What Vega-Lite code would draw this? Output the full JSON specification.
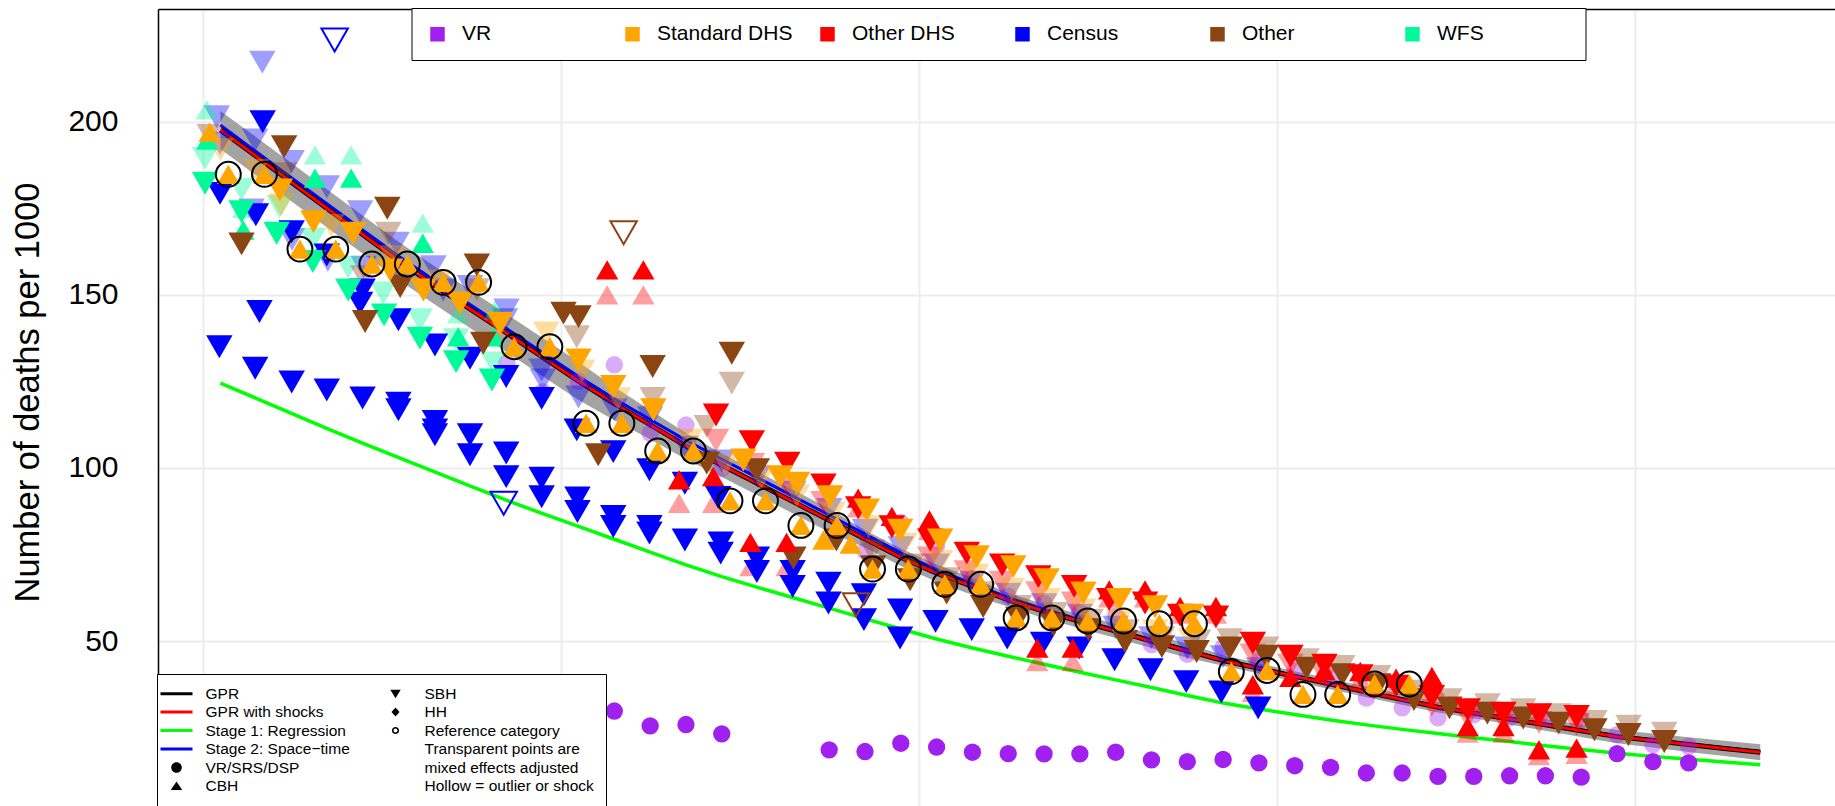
{
  "$schema": "https://vega.github.io/schema/vega-lite/v6.json",
  "width": 1677,
  "height": 797,
  "autosize": {"type": "none"},
  "padding": {"left": 158, "top": 9, "right": 0, "bottom": 0},
  "background": "white",
  "config": {"view": {"stroke": null}, "font": "Liberation Sans"},
  "resolve": {"scale": {"shape": "independent", "fill": "independent", "color": "independent"}},
  "datasets": {
    "est": [
      {"x":1970.5,"gpr":197.6,"lo":192.1,"hi":203.1,"s1":124.5,"s2":199.0},
      {"x":1971.5,"gpr":190.0,"lo":184.5,"hi":195.5,"s1":120.1,"s2":191.3},
      {"x":1972.5,"gpr":182.4,"lo":176.9,"hi":187.9,"s1":115.7,"s2":183.7},
      {"x":1973.5,"gpr":174.8,"lo":169.3,"hi":180.3,"s1":111.3,"s2":176.1},
      {"x":1974.5,"gpr":167.2,"lo":161.7,"hi":172.7,"s1":107.0,"s2":168.5},
      {"x":1975.5,"gpr":159.6,"lo":154.1,"hi":165.1,"s1":102.9,"s2":161.0},
      {"x":1976.5,"gpr":152.6,"lo":147.1,"hi":158.1,"s1":98.8,"s2":154.0},
      {"x":1977.5,"gpr":145.7,"lo":140.2,"hi":151.2,"s1":94.7,"s2":147.0},
      {"x":1978.5,"gpr":138.9,"lo":133.4,"hi":144.4,"s1":90.6,"s2":140.2},
      {"x":1979.5,"gpr":132.0,"lo":126.5,"hi":137.5,"s1":86.8,"s2":133.3},
      {"x":1980.5,"gpr":125.1,"lo":119.6,"hi":130.6,"s1":83.1,"s2":126.4},
      {"x":1981.5,"gpr":118.6,"lo":113.8,"hi":123.4,"s1":79.4,"s2":120.0},
      {"x":1982.5,"gpr":112.5,"lo":108.3,"hi":116.7,"s1":75.7,"s2":114.0},
      {"x":1983.5,"gpr":106.3,"lo":102.5,"hi":110.1,"s1":72.0,"s2":108.0},
      {"x":1984.5,"gpr":100.8,"lo":97.4,"hi":104.2,"s1":68.6,"s2":102.5},
      {"x":1985.5,"gpr":95.5,"lo":92.1,"hi":98.9,"s1":65.5,"s2":97.2},
      {"x":1986.5,"gpr":90.2,"lo":86.8,"hi":93.6,"s1":62.5,"s2":91.8},
      {"x":1987.5,"gpr":84.9,"lo":81.5,"hi":88.3,"s1":59.5,"s2":86.4},
      {"x":1988.5,"gpr":79.5,"lo":77.0,"hi":82.0,"s1":56.5,"s2":80.9},
      {"x":1989.5,"gpr":74.2,"lo":71.7,"hi":76.7,"s1":53.5,"s2":75.5},
      {"x":1990.5,"gpr":69.6,"lo":67.1,"hi":72.1,"s1":50.6,"s2":70.6},
      {"x":1991.5,"gpr":65.8,"lo":63.3,"hi":68.3,"s1":48.0,"s2":66.6},
      {"x":1992.5,"gpr":61.9,"lo":59.9,"hi":63.9,"s1":45.6,"s2":62.6},
      {"x":1993.5,"gpr":58.6,"lo":56.6,"hi":60.6,"s1":43.3,"s2":59.2},
      {"x":1994.5,"gpr":55.7,"lo":53.7,"hi":57.7,"s1":41.0,"s2":56.2},
      {"x":1995.5,"gpr":52.9,"lo":50.9,"hi":54.9,"s1":38.8,"s2":53.3},
      {"x":1996.5,"gpr":50.0,"lo":48.0,"hi":52.0,"s1":36.6,"s2":50.4},
      {"x":1997.5,"gpr":47.2,"lo":45.2,"hi":49.2,"s1":34.3,"s2":47.5},
      {"x":1998.5,"gpr":44.4,"lo":42.9,"hi":45.9,"s1":32.1,"s2":44.6},
      {"x":1999.5,"gpr":42.1,"lo":40.6,"hi":43.6,"s1":30.4,"s2":42.3},
      {"x":2000.5,"gpr":39.8,"lo":38.3,"hi":41.3,"s1":28.8,"s2":40.0},
      {"x":2001.5,"gpr":37.6,"lo":36.1,"hi":39.1,"s1":27.2,"s2":37.8},
      {"x":2002.5,"gpr":35.3,"lo":33.8,"hi":36.8,"s1":25.8,"s2":35.5},
      {"x":2003.5,"gpr":33.1,"lo":31.6,"hi":34.6,"s1":24.5,"s2":33.3},
      {"x":2004.5,"gpr":30.9,"lo":29.4,"hi":32.4,"s1":23.3,"s2":31.1},
      {"x":2005.5,"gpr":29.2,"lo":27.7,"hi":30.7,"s1":22.1,"s2":29.4},
      {"x":2006.5,"gpr":27.5,"lo":25.9,"hi":29.1,"s1":21.0,"s2":27.7},
      {"x":2007.5,"gpr":25.8,"lo":24.1,"hi":27.5,"s1":19.8,"s2":26.0},
      {"x":2008.5,"gpr":24.1,"lo":22.3,"hi":25.9,"s1":18.7,"s2":24.3},
      {"x":2009.5,"gpr":22.4,"lo":20.5,"hi":24.3,"s1":17.6,"s2":22.6},
      {"x":2010.5,"gpr":21.3,"lo":19.3,"hi":23.3,"s1":16.7,"s2":21.5},
      {"x":2011.5,"gpr":20.1,"lo":18.0,"hi":22.2,"s1":15.9,"s2":20.3},
      {"x":2012.5,"gpr":19.0,"lo":16.8,"hi":21.2,"s1":15.1,"s2":19.2},
      {"x":2013.5,"gpr":17.9,"lo":15.6,"hi":20.2,"s1":14.3,"s2":18.1}
    ],
    "pts": [
      {"x":1978.5,"y":30.3,"s":"VR","m":"VR","k":"data"},
      {"x":1979.5,"y":28.4,"s":"VR","m":"VR","k":"data"},
      {"x":1980.5,"y":29.0,"s":"VR","m":"VR","k":"data"},
      {"x":1981.5,"y":29.8,"s":"VR","m":"VR","k":"data"},
      {"x":1982.5,"y":25.5,"s":"VR","m":"VR","k":"data"},
      {"x":1983.5,"y":25.9,"s":"VR","m":"VR","k":"data"},
      {"x":1984.5,"y":23.2,"s":"VR","m":"VR","k":"data"},
      {"x":1987.5,"y":18.6,"s":"VR","m":"VR","k":"data"},
      {"x":1988.5,"y":18.1,"s":"VR","m":"VR","k":"data"},
      {"x":1989.5,"y":20.5,"s":"VR","m":"VR","k":"data"},
      {"x":1990.5,"y":19.4,"s":"VR","m":"VR","k":"data"},
      {"x":1991.5,"y":17.9,"s":"VR","m":"VR","k":"data"},
      {"x":1992.5,"y":17.5,"s":"VR","m":"VR","k":"data"},
      {"x":1993.5,"y":17.4,"s":"VR","m":"VR","k":"data"},
      {"x":1994.5,"y":17.4,"s":"VR","m":"VR","k":"data"},
      {"x":1995.5,"y":17.9,"s":"VR","m":"VR","k":"data"},
      {"x":1996.5,"y":15.7,"s":"VR","m":"VR","k":"data"},
      {"x":1997.5,"y":15.2,"s":"VR","m":"VR","k":"data"},
      {"x":1998.5,"y":15.8,"s":"VR","m":"VR","k":"data"},
      {"x":1999.5,"y":14.8,"s":"VR","m":"VR","k":"data"},
      {"x":2000.5,"y":14.0,"s":"VR","m":"VR","k":"data"},
      {"x":2001.5,"y":13.5,"s":"VR","m":"VR","k":"data"},
      {"x":2002.5,"y":11.9,"s":"VR","m":"VR","k":"data"},
      {"x":2003.5,"y":11.9,"s":"VR","m":"VR","k":"data"},
      {"x":2004.5,"y":10.9,"s":"VR","m":"VR","k":"data"},
      {"x":2005.5,"y":10.9,"s":"VR","m":"VR","k":"data"},
      {"x":2006.5,"y":11.1,"s":"VR","m":"VR","k":"data"},
      {"x":2007.5,"y":11.1,"s":"VR","m":"VR","k":"data"},
      {"x":2008.5,"y":10.7,"s":"VR","m":"VR","k":"data"},
      {"x":2009.5,"y":17.5,"s":"VR","m":"VR","k":"data"},
      {"x":2010.5,"y":15.2,"s":"VR","m":"VR","k":"data"},
      {"x":2011.5,"y":14.8,"s":"VR","m":"VR","k":"data"},
      {"x":1978.5,"y":130.3,"s":"VR","m":"VR","k":"adj"},
      {"x":1979.5,"y":122.0,"s":"VR","m":"VR","k":"adj"},
      {"x":1980.5,"y":125.0,"s":"VR","m":"VR","k":"adj"},
      {"x":1981.5,"y":129.8,"s":"VR","m":"VR","k":"adj"},
      {"x":1982.5,"y":110.0,"s":"VR","m":"VR","k":"adj"},
      {"x":1983.5,"y":112.4,"s":"VR","m":"VR","k":"adj"},
      {"x":1984.5,"y":99.8,"s":"VR","m":"VR","k":"adj"},
      {"x":1987.5,"y":79.2,"s":"VR","m":"VR","k":"adj"},
      {"x":1988.5,"y":76.0,"s":"VR","m":"VR","k":"adj"},
      {"x":1989.5,"y":84.2,"s":"VR","m":"VR","k":"adj"},
      {"x":1990.5,"y":77.6,"s":"VR","m":"VR","k":"adj"},
      {"x":1991.5,"y":68.0,"s":"VR","m":"VR","k":"adj"},
      {"x":1992.5,"y":63.0,"s":"VR","m":"VR","k":"adj"},
      {"x":1993.5,"y":60.9,"s":"VR","m":"VR","k":"adj"},
      {"x":1994.5,"y":58.3,"s":"VR","m":"VR","k":"adj"},
      {"x":1995.5,"y":57.3,"s":"VR","m":"VR","k":"adj"},
      {"x":1996.5,"y":49.0,"s":"VR","m":"VR","k":"adj"},
      {"x":1997.5,"y":46.2,"s":"VR","m":"VR","k":"adj"},
      {"x":1998.5,"y":48.2,"s":"VR","m":"VR","k":"adj"},
      {"x":1999.5,"y":44.4,"s":"VR","m":"VR","k":"adj"},
      {"x":2000.5,"y":41.3,"s":"VR","m":"VR","k":"adj"},
      {"x":2001.5,"y":39.3,"s":"VR","m":"VR","k":"adj"},
      {"x":2002.5,"y":33.5,"s":"VR","m":"VR","k":"adj"},
      {"x":2003.5,"y":30.7,"s":"VR","m":"VR","k":"adj"},
      {"x":2004.5,"y":27.8,"s":"VR","m":"VR","k":"adj"},
      {"x":2005.5,"y":28.7,"s":"VR","m":"VR","k":"adj"},
      {"x":2006.5,"y":27.8,"s":"VR","m":"VR","k":"adj"},
      {"x":2007.5,"y":27.8,"s":"VR","m":"VR","k":"adj"},
      {"x":2008.5,"y":27.3,"s":"VR","m":"VR","k":"adj"},
      {"x":2009.5,"y":23.0,"s":"VR","m":"VR","k":"adj"},
      {"x":2010.5,"y":20.1,"s":"VR","m":"VR","k":"adj"},
      {"x":2011.5,"y":19.6,"s":"VR","m":"VR","k":"adj"},
      {"x":1971.68,"y":200.0,"s":"Census","m":"SBH","k":"data"},
      {"x":1970.49,"y":179.3,"s":"Census","m":"SBH","k":"data"},
      {"x":1971.49,"y":173.1,"s":"Census","m":"SBH","k":"data"},
      {"x":1972.49,"y":168.2,"s":"Census","m":"SBH","k":"data"},
      {"x":1973.47,"y":161.5,"s":"Census","m":"SBH","k":"data"},
      {"x":1974.47,"y":151.4,"s":"Census","m":"SBH","k":"data"},
      {"x":1974.40,"y":147.6,"s":"Census","m":"SBH","k":"data"},
      {"x":1975.47,"y":142.8,"s":"Census","m":"SBH","k":"data"},
      {"x":1976.49,"y":135.5,"s":"Census","m":"SBH","k":"data"},
      {"x":1977.47,"y":131.7,"s":"Census","m":"SBH","k":"data"},
      {"x":1978.48,"y":126.4,"s":"Census","m":"SBH","k":"data"},
      {"x":1979.47,"y":120.1,"s":"Census","m":"SBH","k":"data"},
      {"x":1980.45,"y":111.0,"s":"Census","m":"SBH","k":"data"},
      {"x":1981.47,"y":104.7,"s":"Census","m":"SBH","k":"data"},
      {"x":1982.48,"y":99.5,"s":"Census","m":"SBH","k":"data"},
      {"x":1983.47,"y":95.6,"s":"Census","m":"SBH","k":"data"},
      {"x":1984.40,"y":91.5,"s":"Census","m":"SBH","k":"data"},
      {"x":1971.59,"y":145.2,"s":"Census","m":"SBH","k":"data"},
      {"x":1970.47,"y":135.0,"s":"Census","m":"SBH","k":"data"},
      {"x":1971.47,"y":128.8,"s":"Census","m":"SBH","k":"data"},
      {"x":1972.49,"y":124.8,"s":"Census","m":"SBH","k":"data"},
      {"x":1973.47,"y":122.5,"s":"Census","m":"SBH","k":"data"},
      {"x":1974.47,"y":120.2,"s":"Census","m":"SBH","k":"data"},
      {"x":1975.47,"y":118.7,"s":"Census","m":"SBH","k":"data"},
      {"x":1975.47,"y":116.8,"s":"Census","m":"SBH","k":"data"},
      {"x":1976.49,"y":113.4,"s":"Census","m":"SBH","k":"data"},
      {"x":1976.49,"y":111.0,"s":"Census","m":"SBH","k":"data"},
      {"x":1976.49,"y":109.6,"s":"Census","m":"SBH","k":"data"},
      {"x":1977.47,"y":109.6,"s":"Census","m":"SBH","k":"data"},
      {"x":1977.47,"y":103.8,"s":"Census","m":"SBH","k":"data"},
      {"x":1978.48,"y":104.3,"s":"Census","m":"SBH","k":"data"},
      {"x":1978.48,"y":97.5,"s":"Census","m":"SBH","k":"data"},
      {"x":1979.47,"y":97.0,"s":"Census","m":"SBH","k":"data"},
      {"x":1979.47,"y":91.7,"s":"Census","m":"SBH","k":"data"},
      {"x":1980.47,"y":91.3,"s":"Census","m":"SBH","k":"data"},
      {"x":1980.47,"y":87.4,"s":"Census","m":"SBH","k":"data"},
      {"x":1981.47,"y":86.0,"s":"Census","m":"SBH","k":"data"},
      {"x":1981.47,"y":83.1,"s":"Census","m":"SBH","k":"data"},
      {"x":1982.48,"y":83.1,"s":"Census","m":"SBH","k":"data"},
      {"x":1982.48,"y":81.2,"s":"Census","m":"SBH","k":"data"},
      {"x":1983.47,"y":79.2,"s":"Census","m":"SBH","k":"data"},
      {"x":1984.47,"y":78.3,"s":"Census","m":"SBH","k":"data"},
      {"x":1984.47,"y":75.4,"s":"Census","m":"SBH","k":"data"},
      {"x":1985.48,"y":74.0,"s":"Census","m":"SBH","k":"data"},
      {"x":1985.48,"y":70.1,"s":"Census","m":"SBH","k":"data"},
      {"x":1986.48,"y":70.1,"s":"Census","m":"SBH","k":"data"},
      {"x":1986.48,"y":65.8,"s":"Census","m":"SBH","k":"data"},
      {"x":1987.48,"y":66.7,"s":"Census","m":"SBH","k":"data"},
      {"x":1987.48,"y":61.0,"s":"Census","m":"SBH","k":"data"},
      {"x":1988.47,"y":63.4,"s":"Census","m":"SBH","k":"data"},
      {"x":1988.47,"y":56.2,"s":"Census","m":"SBH","k":"data"},
      {"x":1989.48,"y":59.0,"s":"Census","m":"SBH","k":"data"},
      {"x":1989.48,"y":50.9,"s":"Census","m":"SBH","k":"data"},
      {"x":1990.47,"y":55.7,"s":"Census","m":"SBH","k":"data"},
      {"x":1991.48,"y":53.3,"s":"Census","m":"SBH","k":"data"},
      {"x":1992.47,"y":50.9,"s":"Census","m":"SBH","k":"data"},
      {"x":1993.47,"y":49.4,"s":"Census","m":"SBH","k":"data"},
      {"x":1994.48,"y":48.0,"s":"Census","m":"SBH","k":"data"},
      {"x":1995.47,"y":44.6,"s":"Census","m":"SBH","k":"data"},
      {"x":1996.47,"y":41.7,"s":"Census","m":"SBH","k":"data"},
      {"x":1997.47,"y":38.3,"s":"Census","m":"SBH","k":"data"},
      {"x":1998.45,"y":35.3,"s":"Census","m":"SBH","k":"data"},
      {"x":1999.48,"y":30.7,"s":"Census","m":"SBH","k":"data"},
      {"x":1973.69,"y":223.6,"s":"Census","m":"SBH","k":"out"},
      {"x":1978.41,"y":89.8,"s":"Census","m":"SBH","k":"out"},
      {"x":1971.67,"y":217.2,"s":"Census","m":"SBH","k":"adj"},
      {"x":1970.40,"y":201.4,"s":"Census","m":"SBH","k":"adj"},
      {"x":1970.49,"y":193.8,"s":"Census","m":"SBH","k":"adj"},
      {"x":1971.47,"y":194.7,"s":"Census","m":"SBH","k":"adj"},
      {"x":1972.49,"y":188.5,"s":"Census","m":"SBH","k":"adj"},
      {"x":1973.47,"y":181.2,"s":"Census","m":"SBH","k":"adj"},
      {"x":1974.40,"y":174.0,"s":"Census","m":"SBH","k":"adj"},
      {"x":1975.42,"y":164.9,"s":"Census","m":"SBH","k":"adj"},
      {"x":1976.45,"y":158.1,"s":"Census","m":"SBH","k":"adj"},
      {"x":1977.47,"y":152.4,"s":"Census","m":"SBH","k":"adj"},
      {"x":1978.49,"y":145.6,"s":"Census","m":"SBH","k":"adj"},
      {"x":1979.47,"y":128.3,"s":"Census","m":"SBH","k":"adj"},
      {"x":1976.72,"y":151.4,"s":"Census","m":"SBH","k":"adj"},
      {"x":1978.45,"y":142.8,"s":"Census","m":"SBH","k":"adj"},
      {"x":1979.50,"y":125.4,"s":"Census","m":"SBH","k":"adj"},
      {"x":1980.50,"y":120.5,"s":"Census","m":"SBH","k":"adj"},
      {"x":1981.50,"y":116.8,"s":"Census","m":"SBH","k":"adj"},
      {"x":1982.50,"y":114.5,"s":"Census","m":"SBH","k":"adj"},
      {"x":1971.37,"y":174.5,"s":"Census","m":"SBH","k":"adj"},
      {"x":1972.50,"y":166.0,"s":"Census","m":"SBH","k":"adj"},
      {"x":1973.50,"y":160.0,"s":"Census","m":"SBH","k":"adj"},
      {"x":1974.50,"y":158.0,"s":"Census","m":"SBH","k":"adj"},
      {"x":1975.50,"y":156.0,"s":"Census","m":"SBH","k":"adj"},
      {"x":1983.50,"y":106.0,"s":"Census","m":"SBH","k":"adj"},
      {"x":1984.50,"y":102.0,"s":"Census","m":"SBH","k":"adj"},
      {"x":1985.50,"y":97.5,"s":"Census","m":"SBH","k":"adj"},
      {"x":1986.50,"y":93.0,"s":"Census","m":"SBH","k":"adj"},
      {"x":1987.50,"y":88.0,"s":"Census","m":"SBH","k":"adj"},
      {"x":1988.50,"y":82.0,"s":"Census","m":"SBH","k":"adj"},
      {"x":1989.50,"y":77.0,"s":"Census","m":"SBH","k":"adj"},
      {"x":1990.50,"y":72.0,"s":"Census","m":"SBH","k":"adj"},
      {"x":1991.50,"y":67.0,"s":"Census","m":"SBH","k":"adj"},
      {"x":1992.50,"y":63.5,"s":"Census","m":"SBH","k":"adj"},
      {"x":1993.50,"y":60.5,"s":"Census","m":"SBH","k":"adj"},
      {"x":1994.50,"y":57.5,"s":"Census","m":"SBH","k":"adj"},
      {"x":1995.50,"y":54.0,"s":"Census","m":"SBH","k":"adj"},
      {"x":1996.50,"y":51.0,"s":"Census","m":"SBH","k":"adj"},
      {"x":1997.50,"y":48.0,"s":"Census","m":"SBH","k":"adj"},
      {"x":1998.50,"y":45.5,"s":"Census","m":"SBH","k":"adj"},
      {"x":1999.50,"y":42.0,"s":"Census","m":"SBH","k":"adj"},
      {"x":1970.13,"y":194.7,"s":"WFS","m":"CBH","k":"data"},
      {"x":1971.14,"y":168.7,"s":"WFS","m":"CBH","k":"data"},
      {"x":1973.14,"y":183.7,"s":"WFS","m":"CBH","k":"data"},
      {"x":1974.15,"y":183.7,"s":"WFS","m":"CBH","k":"data"},
      {"x":1976.15,"y":164.9,"s":"WFS","m":"CBH","k":"data"},
      {"x":1977.14,"y":137.9,"s":"WFS","m":"CBH","k":"data"},
      {"x":1978.12,"y":137.9,"s":"WFS","m":"CBH","k":"data"},
      {"x":1970.07,"y":182.2,"s":"WFS","m":"SBH","k":"data"},
      {"x":1971.09,"y":174.0,"s":"WFS","m":"SBH","k":"data"},
      {"x":1972.07,"y":167.8,"s":"WFS","m":"SBH","k":"data"},
      {"x":1973.08,"y":159.6,"s":"WFS","m":"SBH","k":"data"},
      {"x":1974.07,"y":151.4,"s":"WFS","m":"SBH","k":"data"},
      {"x":1975.07,"y":144.2,"s":"WFS","m":"SBH","k":"data"},
      {"x":1976.07,"y":137.5,"s":"WFS","m":"SBH","k":"data"},
      {"x":1977.08,"y":130.7,"s":"WFS","m":"SBH","k":"data"},
      {"x":1978.08,"y":125.4,"s":"WFS","m":"SBH","k":"data"},
      {"x":1970.12,"y":203.4,"s":"WFS","m":"CBH","k":"adj"},
      {"x":1973.14,"y":190.4,"s":"WFS","m":"CBH","k":"adj"},
      {"x":1974.15,"y":190.4,"s":"WFS","m":"CBH","k":"adj"},
      {"x":1976.15,"y":170.7,"s":"WFS","m":"CBH","k":"adj"},
      {"x":1978.17,"y":145.6,"s":"WFS","m":"CBH","k":"adj"},
      {"x":1977.14,"y":144.5,"s":"WFS","m":"CBH","k":"adj"},
      {"x":1971.14,"y":175.0,"s":"WFS","m":"CBH","k":"adj"},
      {"x":1970.07,"y":189.4,"s":"WFS","m":"SBH","k":"adj"},
      {"x":1972.15,"y":175.5,"s":"WFS","m":"SBH","k":"adj"},
      {"x":1975.05,"y":150.5,"s":"WFS","m":"SBH","k":"adj"},
      {"x":1976.07,"y":142.8,"s":"WFS","m":"SBH","k":"adj"},
      {"x":1978.12,"y":130.3,"s":"WFS","m":"SBH","k":"adj"},
      {"x":1971.09,"y":180.5,"s":"WFS","m":"SBH","k":"adj"},
      {"x":1973.08,"y":166.0,"s":"WFS","m":"SBH","k":"adj"},
      {"x":1974.07,"y":158.0,"s":"WFS","m":"SBH","k":"adj"},
      {"x":1977.08,"y":137.0,"s":"WFS","m":"SBH","k":"adj"},
      {"x":1972.28,"y":192.8,"s":"Other","m":"SBH","k":"data"},
      {"x":1971.09,"y":164.7,"s":"Other","m":"SBH","k":"data"},
      {"x":1975.16,"y":175.0,"s":"Other","m":"SBH","k":"data"},
      {"x":1974.54,"y":142.3,"s":"Other","m":"SBH","k":"data"},
      {"x":1977.66,"y":158.6,"s":"Other","m":"SBH","k":"data"},
      {"x":1975.52,"y":152.4,"s":"Other","m":"SBH","k":"data"},
      {"x":1977.84,"y":136.0,"s":"Other","m":"SBH","k":"data"},
      {"x":1980.08,"y":144.7,"s":"Other","m":"SBH","k":"data"},
      {"x":1980.50,"y":143.7,"s":"Other","m":"SBH","k":"data"},
      {"x":1982.57,"y":129.3,"s":"Other","m":"SBH","k":"data"},
      {"x":1981.05,"y":103.8,"s":"Other","m":"SBH","k":"data"},
      {"x":1984.78,"y":133.1,"s":"Other","m":"SBH","k":"data"},
      {"x":1986.50,"y":74.0,"s":"Other","m":"SBH","k":"data"},
      {"x":1984.08,"y":101.4,"s":"Other","m":"SBH","k":"data"},
      {"x":1985.48,"y":99.5,"s":"Other","m":"SBH","k":"data"},
      {"x":1987.70,"y":79.2,"s":"Other","m":"SBH","k":"data"},
      {"x":1988.73,"y":71.5,"s":"Other","m":"SBH","k":"data"},
      {"x":1989.76,"y":67.7,"s":"Other","m":"SBH","k":"data"},
      {"x":1990.78,"y":63.9,"s":"Other","m":"SBH","k":"data"},
      {"x":1991.80,"y":60.0,"s":"Other","m":"SBH","k":"data"},
      {"x":1992.78,"y":56.6,"s":"Other","m":"SBH","k":"data"},
      {"x":1993.76,"y":54.7,"s":"Other","m":"SBH","k":"data"},
      {"x":1994.74,"y":53.3,"s":"Other","m":"SBH","k":"data"},
      {"x":1995.76,"y":49.9,"s":"Other","m":"SBH","k":"data"},
      {"x":1996.79,"y":48.4,"s":"Other","m":"SBH","k":"data"},
      {"x":1997.76,"y":47.0,"s":"Other","m":"SBH","k":"data"},
      {"x":1998.68,"y":48.0,"s":"Other","m":"SBH","k":"data"},
      {"x":1999.70,"y":45.6,"s":"Other","m":"SBH","k":"data"},
      {"x":2000.83,"y":42.2,"s":"Other","m":"SBH","k":"data"},
      {"x":2001.83,"y":40.3,"s":"Other","m":"SBH","k":"data"},
      {"x":2002.83,"y":37.4,"s":"Other","m":"SBH","k":"data"},
      {"x":2003.83,"y":33.1,"s":"Other","m":"SBH","k":"data"},
      {"x":2004.82,"y":30.7,"s":"Other","m":"SBH","k":"data"},
      {"x":2005.88,"y":29.2,"s":"Other","m":"SBH","k":"data"},
      {"x":2006.88,"y":27.8,"s":"Other","m":"SBH","k":"data"},
      {"x":2007.87,"y":26.3,"s":"Other","m":"SBH","k":"data"},
      {"x":2008.87,"y":24.4,"s":"Other","m":"SBH","k":"data"},
      {"x":2009.82,"y":23.0,"s":"Other","m":"SBH","k":"data"},
      {"x":2010.82,"y":21.0,"s":"Other","m":"SBH","k":"data"},
      {"x":1981.76,"y":167.9,"s":"Other","m":"SBH","k":"out"},
      {"x":1988.25,"y":60.5,"s":"Other","m":"SBH","k":"out"},
      {"x":1970.20,"y":196.0,"s":"Other","m":"SBH","k":"adj"},
      {"x":1972.28,"y":185.0,"s":"Other","m":"SBH","k":"adj"},
      {"x":1974.49,"y":155.2,"s":"Other","m":"SBH","k":"adj"},
      {"x":1975.19,"y":167.8,"s":"Other","m":"SBH","k":"adj"},
      {"x":1977.66,"y":151.5,"s":"Other","m":"SBH","k":"adj"},
      {"x":1980.45,"y":137.9,"s":"Other","m":"SBH","k":"adj"},
      {"x":1982.57,"y":120.1,"s":"Other","m":"SBH","k":"adj"},
      {"x":1984.78,"y":124.5,"s":"Other","m":"SBH","k":"adj"},
      {"x":1984.08,"y":112.0,"s":"Other","m":"SBH","k":"adj"},
      {"x":1988.70,"y":76.0,"s":"Other","m":"SBH","k":"adj"},
      {"x":1989.80,"y":72.0,"s":"Other","m":"SBH","k":"adj"},
      {"x":1990.80,"y":68.0,"s":"Other","m":"SBH","k":"adj"},
      {"x":1991.80,"y":64.0,"s":"Other","m":"SBH","k":"adj"},
      {"x":1992.80,"y":60.0,"s":"Other","m":"SBH","k":"adj"},
      {"x":1993.80,"y":58.0,"s":"Other","m":"SBH","k":"adj"},
      {"x":1994.80,"y":56.0,"s":"Other","m":"SBH","k":"adj"},
      {"x":1995.80,"y":53.0,"s":"Other","m":"SBH","k":"adj"},
      {"x":1996.80,"y":51.0,"s":"Other","m":"SBH","k":"adj"},
      {"x":1997.80,"y":50.0,"s":"Other","m":"SBH","k":"adj"},
      {"x":1998.68,"y":50.4,"s":"Other","m":"SBH","k":"adj"},
      {"x":1999.70,"y":48.0,"s":"Other","m":"SBH","k":"adj"},
      {"x":2000.83,"y":44.6,"s":"Other","m":"SBH","k":"adj"},
      {"x":2001.83,"y":42.7,"s":"Other","m":"SBH","k":"adj"},
      {"x":2002.83,"y":39.8,"s":"Other","m":"SBH","k":"adj"},
      {"x":2003.83,"y":35.5,"s":"Other","m":"SBH","k":"adj"},
      {"x":2004.82,"y":33.1,"s":"Other","m":"SBH","k":"adj"},
      {"x":2005.88,"y":31.6,"s":"Other","m":"SBH","k":"adj"},
      {"x":2006.88,"y":30.2,"s":"Other","m":"SBH","k":"adj"},
      {"x":2007.87,"y":28.7,"s":"Other","m":"SBH","k":"adj"},
      {"x":2008.87,"y":26.8,"s":"Other","m":"SBH","k":"adj"},
      {"x":2009.82,"y":25.4,"s":"Other","m":"SBH","k":"adj"},
      {"x":2010.82,"y":23.4,"s":"Other","m":"SBH","k":"adj"},
      {"x":1981.30,"y":157.2,"s":"Other DHS","m":"CBH","k":"data"},
      {"x":1982.31,"y":157.2,"s":"Other DHS","m":"CBH","k":"data"},
      {"x":1983.31,"y":96.6,"s":"Other DHS","m":"CBH","k":"data"},
      {"x":1984.26,"y":97.5,"s":"Other DHS","m":"CBH","k":"data"},
      {"x":1985.30,"y":78.5,"s":"Other DHS","m":"CBH","k":"data"},
      {"x":1986.31,"y":78.5,"s":"Other DHS","m":"CBH","k":"data"},
      {"x":1988.31,"y":91.3,"s":"Other DHS","m":"CBH","k":"data"},
      {"x":1989.25,"y":86.0,"s":"Other DHS","m":"CBH","k":"data"},
      {"x":1990.30,"y":85.0,"s":"Other DHS","m":"CBH","k":"data"},
      {"x":1993.31,"y":48.0,"s":"Other DHS","m":"CBH","k":"data"},
      {"x":1994.30,"y":48.0,"s":"Other DHS","m":"CBH","k":"data"},
      {"x":1995.32,"y":64.8,"s":"Other DHS","m":"CBH","k":"data"},
      {"x":1996.32,"y":64.8,"s":"Other DHS","m":"CBH","k":"data"},
      {"x":1997.30,"y":60.0,"s":"Other DHS","m":"CBH","k":"data"},
      {"x":1998.30,"y":60.0,"s":"Other DHS","m":"CBH","k":"data"},
      {"x":1999.33,"y":37.4,"s":"Other DHS","m":"CBH","k":"data"},
      {"x":2000.38,"y":39.5,"s":"Other DHS","m":"CBH","k":"data"},
      {"x":2001.33,"y":41.5,"s":"Other DHS","m":"CBH","k":"data"},
      {"x":2002.33,"y":41.2,"s":"Other DHS","m":"CBH","k":"data"},
      {"x":2003.33,"y":39.3,"s":"Other DHS","m":"CBH","k":"data"},
      {"x":2004.33,"y":39.8,"s":"Other DHS","m":"CBH","k":"data"},
      {"x":2005.33,"y":25.3,"s":"Other DHS","m":"CBH","k":"data"},
      {"x":2006.33,"y":25.3,"s":"Other DHS","m":"CBH","k":"data"},
      {"x":2007.32,"y":18.6,"s":"Other DHS","m":"CBH","k":"data"},
      {"x":2008.37,"y":19.1,"s":"Other DHS","m":"CBH","k":"data"},
      {"x":1984.34,"y":115.3,"s":"Other DHS","m":"SBH","k":"data"},
      {"x":1985.34,"y":107.6,"s":"Other DHS","m":"SBH","k":"data"},
      {"x":1986.33,"y":101.4,"s":"Other DHS","m":"SBH","k":"data"},
      {"x":1987.34,"y":95.1,"s":"Other DHS","m":"SBH","k":"data"},
      {"x":1988.31,"y":88.5,"s":"Other DHS","m":"SBH","k":"data"},
      {"x":1989.25,"y":83.0,"s":"Other DHS","m":"SBH","k":"data"},
      {"x":1990.32,"y":79.2,"s":"Other DHS","m":"SBH","k":"data"},
      {"x":1991.34,"y":75.4,"s":"Other DHS","m":"SBH","k":"data"},
      {"x":1992.33,"y":72.0,"s":"Other DHS","m":"SBH","k":"data"},
      {"x":1993.34,"y":68.6,"s":"Other DHS","m":"SBH","k":"data"},
      {"x":1994.34,"y":65.8,"s":"Other DHS","m":"SBH","k":"data"},
      {"x":1995.32,"y":62.0,"s":"Other DHS","m":"SBH","k":"data"},
      {"x":1996.32,"y":61.0,"s":"Other DHS","m":"SBH","k":"data"},
      {"x":1997.30,"y":57.5,"s":"Other DHS","m":"SBH","k":"data"},
      {"x":1998.30,"y":57.0,"s":"Other DHS","m":"SBH","k":"data"},
      {"x":1999.33,"y":49.4,"s":"Other DHS","m":"SBH","k":"data"},
      {"x":2000.38,"y":45.6,"s":"Other DHS","m":"SBH","k":"data"},
      {"x":2001.33,"y":43.0,"s":"Other DHS","m":"SBH","k":"data"},
      {"x":2002.33,"y":40.0,"s":"Other DHS","m":"SBH","k":"data"},
      {"x":2003.33,"y":37.0,"s":"Other DHS","m":"SBH","k":"data"},
      {"x":2004.33,"y":34.0,"s":"Other DHS","m":"SBH","k":"data"},
      {"x":2005.33,"y":30.2,"s":"Other DHS","m":"SBH","k":"data"},
      {"x":2006.33,"y":29.2,"s":"Other DHS","m":"SBH","k":"data"},
      {"x":2007.32,"y":28.7,"s":"Other DHS","m":"SBH","k":"data"},
      {"x":2008.37,"y":28.2,"s":"Other DHS","m":"SBH","k":"data"},
      {"x":1981.30,"y":150.0,"s":"Other DHS","m":"CBH","k":"adj"},
      {"x":1982.31,"y":150.0,"s":"Other DHS","m":"CBH","k":"adj"},
      {"x":1983.31,"y":89.8,"s":"Other DHS","m":"CBH","k":"adj"},
      {"x":1984.26,"y":89.8,"s":"Other DHS","m":"CBH","k":"adj"},
      {"x":1985.30,"y":71.5,"s":"Other DHS","m":"CBH","k":"adj"},
      {"x":1986.31,"y":71.5,"s":"Other DHS","m":"CBH","k":"adj"},
      {"x":1988.31,"y":88.5,"s":"Other DHS","m":"CBH","k":"adj"},
      {"x":1990.30,"y":82.0,"s":"Other DHS","m":"CBH","k":"adj"},
      {"x":1993.31,"y":44.1,"s":"Other DHS","m":"CBH","k":"adj"},
      {"x":1994.30,"y":44.1,"s":"Other DHS","m":"CBH","k":"adj"},
      {"x":1995.32,"y":62.5,"s":"Other DHS","m":"CBH","k":"adj"},
      {"x":1996.32,"y":62.5,"s":"Other DHS","m":"CBH","k":"adj"},
      {"x":1997.30,"y":57.8,"s":"Other DHS","m":"CBH","k":"adj"},
      {"x":1998.30,"y":57.8,"s":"Other DHS","m":"CBH","k":"adj"},
      {"x":1999.33,"y":35.2,"s":"Other DHS","m":"CBH","k":"adj"},
      {"x":2002.33,"y":38.8,"s":"Other DHS","m":"CBH","k":"adj"},
      {"x":2003.33,"y":37.2,"s":"Other DHS","m":"CBH","k":"adj"},
      {"x":2004.33,"y":37.5,"s":"Other DHS","m":"CBH","k":"adj"},
      {"x":2005.33,"y":23.4,"s":"Other DHS","m":"CBH","k":"adj"},
      {"x":2006.33,"y":23.4,"s":"Other DHS","m":"CBH","k":"adj"},
      {"x":2007.32,"y":16.9,"s":"Other DHS","m":"CBH","k":"adj"},
      {"x":2008.37,"y":17.3,"s":"Other DHS","m":"CBH","k":"adj"},
      {"x":1984.34,"y":108.0,"s":"Other DHS","m":"SBH","k":"adj"},
      {"x":1985.34,"y":101.0,"s":"Other DHS","m":"SBH","k":"adj"},
      {"x":1986.33,"y":95.0,"s":"Other DHS","m":"SBH","k":"adj"},
      {"x":1987.34,"y":90.0,"s":"Other DHS","m":"SBH","k":"adj"},
      {"x":1990.32,"y":74.0,"s":"Other DHS","m":"SBH","k":"adj"},
      {"x":1991.34,"y":70.0,"s":"Other DHS","m":"SBH","k":"adj"},
      {"x":1992.33,"y":67.0,"s":"Other DHS","m":"SBH","k":"adj"},
      {"x":1993.34,"y":64.0,"s":"Other DHS","m":"SBH","k":"adj"},
      {"x":1994.34,"y":61.0,"s":"Other DHS","m":"SBH","k":"adj"},
      {"x":1999.33,"y":46.0,"s":"Other DHS","m":"SBH","k":"adj"},
      {"x":2000.38,"y":43.0,"s":"Other DHS","m":"SBH","k":"adj"},
      {"x":2001.33,"y":40.0,"s":"Other DHS","m":"SBH","k":"adj"},
      {"x":2004.33,"y":31.5,"s":"Other DHS","m":"SBH","k":"adj"},
      {"x":2005.33,"y":28.0,"s":"Other DHS","m":"SBH","k":"adj"},
      {"x":2006.33,"y":27.0,"s":"Other DHS","m":"SBH","k":"adj"},
      {"x":2007.32,"y":26.5,"s":"Other DHS","m":"SBH","k":"adj"},
      {"x":2008.37,"y":26.0,"s":"Other DHS","m":"SBH","k":"adj"},
      {"x":1970.20,"y":197.0,"s":"Standard DHS","m":"CBH","k":"data"},
      {"x":1987.34,"y":79.2,"s":"Standard DHS","m":"CBH","k":"data"},
      {"x":1988.10,"y":78.0,"s":"Standard DHS","m":"CBH","k":"data"},
      {"x":1972.16,"y":180.3,"s":"Standard DHS","m":"SBH","k":"data"},
      {"x":1973.10,"y":171.1,"s":"Standard DHS","m":"SBH","k":"data"},
      {"x":1974.20,"y":167.8,"s":"Standard DHS","m":"SBH","k":"data"},
      {"x":1975.24,"y":157.2,"s":"Standard DHS","m":"SBH","k":"data"},
      {"x":1976.17,"y":151.4,"s":"Standard DHS","m":"SBH","k":"data"},
      {"x":1977.19,"y":147.6,"s":"Standard DHS","m":"SBH","k":"data"},
      {"x":1978.31,"y":141.8,"s":"Standard DHS","m":"SBH","k":"data"},
      {"x":1980.50,"y":131.2,"s":"Standard DHS","m":"SBH","k":"data"},
      {"x":1981.47,"y":123.5,"s":"Standard DHS","m":"SBH","k":"data"},
      {"x":1982.59,"y":116.8,"s":"Standard DHS","m":"SBH","k":"data"},
      {"x":1985.10,"y":102.3,"s":"Standard DHS","m":"SBH","k":"data"},
      {"x":1986.13,"y":97.5,"s":"Standard DHS","m":"SBH","k":"data"},
      {"x":1986.60,"y":95.6,"s":"Standard DHS","m":"SBH","k":"data"},
      {"x":1987.52,"y":91.7,"s":"Standard DHS","m":"SBH","k":"data"},
      {"x":1988.55,"y":87.9,"s":"Standard DHS","m":"SBH","k":"data"},
      {"x":1989.48,"y":82.0,"s":"Standard DHS","m":"SBH","k":"data"},
      {"x":1990.60,"y":79.2,"s":"Standard DHS","m":"SBH","k":"data"},
      {"x":1991.62,"y":74.4,"s":"Standard DHS","m":"SBH","k":"data"},
      {"x":1992.64,"y":71.5,"s":"Standard DHS","m":"SBH","k":"data"},
      {"x":1993.57,"y":67.7,"s":"Standard DHS","m":"SBH","k":"data"},
      {"x":1994.60,"y":63.9,"s":"Standard DHS","m":"SBH","k":"data"},
      {"x":1995.60,"y":62.0,"s":"Standard DHS","m":"SBH","k":"data"},
      {"x":1996.60,"y":59.9,"s":"Standard DHS","m":"SBH","k":"data"},
      {"x":1997.60,"y":57.5,"s":"Standard DHS","m":"SBH","k":"data"},
      {"x":1970.50,"y":192.0,"s":"Standard DHS","m":"SBH","k":"adj"},
      {"x":1971.50,"y":186.0,"s":"Standard DHS","m":"SBH","k":"adj"},
      {"x":1972.20,"y":176.0,"s":"Standard DHS","m":"SBH","k":"adj"},
      {"x":1973.60,"y":170.0,"s":"Standard DHS","m":"SBH","k":"adj"},
      {"x":1975.30,"y":161.0,"s":"Standard DHS","m":"SBH","k":"adj"},
      {"x":1976.60,"y":154.0,"s":"Standard DHS","m":"SBH","k":"adj"},
      {"x":1978.30,"y":141.0,"s":"Standard DHS","m":"SBH","k":"adj"},
      {"x":1979.60,"y":139.0,"s":"Standard DHS","m":"SBH","k":"adj"},
      {"x":1980.60,"y":128.0,"s":"Standard DHS","m":"SBH","k":"adj"},
      {"x":1981.60,"y":120.0,"s":"Standard DHS","m":"SBH","k":"adj"},
      {"x":1983.60,"y":108.0,"s":"Standard DHS","m":"SBH","k":"adj"},
      {"x":1984.60,"y":101.0,"s":"Standard DHS","m":"SBH","k":"adj"},
      {"x":1985.60,"y":97.0,"s":"Standard DHS","m":"SBH","k":"adj"},
      {"x":1986.60,"y":92.0,"s":"Standard DHS","m":"SBH","k":"adj"},
      {"x":1987.60,"y":87.0,"s":"Standard DHS","m":"SBH","k":"adj"},
      {"x":1988.60,"y":83.0,"s":"Standard DHS","m":"SBH","k":"adj"},
      {"x":1989.60,"y":78.0,"s":"Standard DHS","m":"SBH","k":"adj"},
      {"x":1990.60,"y":73.0,"s":"Standard DHS","m":"SBH","k":"adj"},
      {"x":1991.60,"y":69.0,"s":"Standard DHS","m":"SBH","k":"adj"},
      {"x":1992.60,"y":65.0,"s":"Standard DHS","m":"SBH","k":"adj"},
      {"x":1993.60,"y":62.0,"s":"Standard DHS","m":"SBH","k":"adj"},
      {"x":1994.60,"y":59.0,"s":"Standard DHS","m":"SBH","k":"adj"},
      {"x":1995.60,"y":56.0,"s":"Standard DHS","m":"SBH","k":"adj"},
      {"x":1996.60,"y":53.0,"s":"Standard DHS","m":"SBH","k":"adj"},
      {"x":1997.60,"y":50.5,"s":"Standard DHS","m":"SBH","k":"adj"},
      {"x":1970.72,"y":184.8,"s":"Standard DHS","m":"CBH","k":"ref"},
      {"x":1971.73,"y":184.8,"s":"Standard DHS","m":"CBH","k":"ref"},
      {"x":1972.72,"y":163.2,"s":"Standard DHS","m":"CBH","k":"ref"},
      {"x":1973.72,"y":163.2,"s":"Standard DHS","m":"CBH","k":"ref"},
      {"x":1974.73,"y":158.9,"s":"Standard DHS","m":"CBH","k":"ref"},
      {"x":1975.72,"y":158.9,"s":"Standard DHS","m":"CBH","k":"ref"},
      {"x":1976.72,"y":153.6,"s":"Standard DHS","m":"CBH","k":"ref"},
      {"x":1977.71,"y":153.6,"s":"Standard DHS","m":"CBH","k":"ref"},
      {"x":1978.70,"y":135.0,"s":"Standard DHS","m":"CBH","k":"ref"},
      {"x":1979.70,"y":135.0,"s":"Standard DHS","m":"CBH","k":"ref"},
      {"x":1980.71,"y":112.9,"s":"Standard DHS","m":"CBH","k":"ref"},
      {"x":1981.71,"y":112.9,"s":"Standard DHS","m":"CBH","k":"ref"},
      {"x":1982.71,"y":104.9,"s":"Standard DHS","m":"CBH","k":"ref"},
      {"x":1983.71,"y":104.9,"s":"Standard DHS","m":"CBH","k":"ref"},
      {"x":1984.73,"y":90.5,"s":"Standard DHS","m":"CBH","k":"ref"},
      {"x":1985.72,"y":90.5,"s":"Standard DHS","m":"CBH","k":"ref"},
      {"x":1986.71,"y":83.4,"s":"Standard DHS","m":"CBH","k":"ref"},
      {"x":1987.72,"y":83.4,"s":"Standard DHS","m":"CBH","k":"ref"},
      {"x":1988.71,"y":70.8,"s":"Standard DHS","m":"CBH","k":"ref"},
      {"x":1989.71,"y":70.8,"s":"Standard DHS","m":"CBH","k":"ref"},
      {"x":1990.73,"y":66.4,"s":"Standard DHS","m":"CBH","k":"ref"},
      {"x":1991.73,"y":66.4,"s":"Standard DHS","m":"CBH","k":"ref"},
      {"x":1992.72,"y":56.7,"s":"Standard DHS","m":"CBH","k":"ref"},
      {"x":1993.72,"y":56.7,"s":"Standard DHS","m":"CBH","k":"ref"},
      {"x":1994.72,"y":55.8,"s":"Standard DHS","m":"CBH","k":"ref"},
      {"x":1995.72,"y":55.8,"s":"Standard DHS","m":"CBH","k":"ref"},
      {"x":1996.72,"y":55.0,"s":"Standard DHS","m":"CBH","k":"ref"},
      {"x":1997.70,"y":55.0,"s":"Standard DHS","m":"CBH","k":"ref"},
      {"x":1998.73,"y":41.2,"s":"Standard DHS","m":"CBH","k":"ref"},
      {"x":1999.73,"y":41.5,"s":"Standard DHS","m":"CBH","k":"ref"},
      {"x":2000.73,"y":34.6,"s":"Standard DHS","m":"CBH","k":"ref"},
      {"x":2001.70,"y":34.6,"s":"Standard DHS","m":"CBH","k":"ref"},
      {"x":2002.73,"y":37.6,"s":"Standard DHS","m":"CBH","k":"ref"},
      {"x":2003.70,"y":37.6,"s":"Standard DHS","m":"CBH","k":"ref"}
    ],
    "legitems": [
      {"leg":"GPR"},{"leg":"GPR with shocks"},{"leg":"Stage 1: Regression"},
      {"leg":"Stage 2: Space−time"},{"leg":"VR/SRS/DSP"},{"leg":"CBH"},
      {"leg":"SBH"},{"leg":"HH"},{"leg":"Reference category"},
      {"leg":"Transparent points are"},{"leg":"mixed effects adjusted"},
      {"leg":"Hollow = outlier or shock"}
    ]
  },
  "layer": [
    {
      "data": {"name": "est"},
      "mark": {"type": "area", "color": "#A3A3A3", "opacity": 1, "clip": true},
      "encoding": {
        "x": {"field": "x", "type": "quantitative",
              "scale": {"domain": [1968.757, 2015.587], "nice": false, "zero": false},
              "axis": {"orient": "top", "title": null, "labels": false, "ticks": false,
                       "domain": true, "domainColor": "black", "domainWidth": 1.5,
                       "grid": true, "gridColor": "#EDEDED", "gridWidth": 2,
                       "values": [1970, 1980, 1990, 2000, 2010]}},
        "y": {"field": "lo", "type": "quantitative",
              "scale": {"domain": [2.37, 232.54], "nice": false, "zero": false},
              "axis": {"orient": "left", "title": "Number of deaths per 1000",
                       "values": [50, 100, 150, 200], "ticks": false,
                       "labelFontSize": 30, "labelColor": "black", "labelPadding": 40,
                       "titleFontSize": 34.5, "titleFontWeight": "normal", "titleColor": "black",
                       "titlePadding": 22, "titleY": 383, "domain": true, "domainColor": "black", "domainWidth": 1.5,
                       "grid": true, "gridColor": "#EDEDED", "gridWidth": 2}},
        "y2": {"field": "hi"}
      }
    },
    {
      "data": {"name": "est"},
      "mark": {"type": "line", "color": "#00FF00", "strokeWidth": 3.5, "clip": true},
      "encoding": {
        "x": {"field": "x", "type": "quantitative"},
        "y": {"field": "s1", "type": "quantitative"}
      }
    },
    {
      "data": {"name": "est"},
      "mark": {"type": "line", "color": "#0000FF", "strokeWidth": 3, "clip": true},
      "encoding": {
        "x": {"field": "x", "type": "quantitative"},
        "y": {"field": "s2", "type": "quantitative"}
      }
    },
    {
      "data": {"name": "est"},
      "mark": {"type": "line", "color": "black", "strokeWidth": 5, "clip": true},
      "encoding": {
        "x": {"field": "x", "type": "quantitative"},
        "y": {"field": "gpr", "type": "quantitative"}
      }
    },
    {
      "data": {"name": "est"},
      "mark": {"type": "line", "color": "#FF0000", "strokeWidth": 3, "clip": true},
      "encoding": {
        "x": {"field": "x", "type": "quantitative"},
        "y": {"field": "gpr", "type": "quantitative"}
      }
    },
    {
      "data": {"name": "pts"},
      "transform": [{"filter": "datum.k == 'adj'"}],
      "mark": {"type": "point", "filled": true, "opacity": 0.38, "strokeWidth": 0, "clip": true},
      "encoding": {
        "x": {"field": "x", "type": "quantitative"},
        "y": {"field": "y", "type": "quantitative"},
        "color": {"field": "s", "type": "nominal", "legend": null,
                  "scale": {"domain": ["VR", "Standard DHS", "Other DHS", "Census", "Other", "WFS"],
                            "range": ["#A020F0", "#FFA500", "#FF0000", "#0000FF", "#8B4513", "#00FA9A"]}},
        "shape": {"field": "m", "type": "nominal", "legend": null,
                  "scale": {"domain": ["VR", "CBH", "SBH"], "range": ["circle", "triangle-up", "triangle-down"]}},
        "size": {"field": "m", "type": "nominal", "legend": null,
                 "scale": {"domain": ["VR", "CBH", "SBH"], "range": [300, 700, 700]}}
      }
    },
    {
      "data": {"name": "pts"},
      "transform": [{"filter": "datum.k == 'data' || datum.k == 'ref'"}],
      "mark": {"type": "point", "filled": true, "opacity": 1, "strokeWidth": 0, "clip": true},
      "encoding": {
        "x": {"field": "x", "type": "quantitative"},
        "y": {"field": "y", "type": "quantitative"},
        "color": {"field": "s", "type": "nominal",
                  "scale": {"domain": ["VR", "Standard DHS", "Other DHS", "Census", "Other", "WFS"],
                            "range": ["#A020F0", "#FFA500", "#FF0000", "#0000FF", "#8B4513", "#00FA9A"]},
                  "legend": {"title": " ", "titleOrient": "right", "titlePadding": 86, "titleFontSize": 21,
                             "orient": "none", "legendX": 253.5, "legendY": -1,
                             "direction": "horizontal", "columns": 6, "gridAlign": "all",
                             "symbolType": "square", "symbolSize": 210, "symbolStrokeWidth": 0,
                             "symbolOpacity": 1, "labelFontSize": 21, "labelColor": "black",
                             "labelOffset": 14, "labelLimit": 300, "columnPadding": 24,
                             "padding": 15.5, "strokeColor": "black",
                             "fillColor": "white"}},
        "shape": {"field": "m", "type": "nominal", "legend": null,
                  "scale": {"domain": ["VR", "CBH", "SBH"], "range": ["circle", "triangle-up", "triangle-down"]}},
        "size": {"field": "m", "type": "nominal", "legend": null,
                 "scale": {"domain": ["VR", "CBH", "SBH"], "range": [300, 700, 700]}}
      }
    },
    {
      "data": {"name": "pts"},
      "transform": [{"filter": "datum.k == 'out'"}],
      "mark": {"type": "point", "filled": false, "opacity": 1, "strokeWidth": 2, "clip": true},
      "encoding": {
        "x": {"field": "x", "type": "quantitative"},
        "y": {"field": "y", "type": "quantitative"},
        "color": {"field": "s", "type": "nominal", "legend": null,
                  "scale": {"domain": ["VR", "Standard DHS", "Other DHS", "Census", "Other", "WFS"],
                            "range": ["#A020F0", "#FFA500", "#FF0000", "#0000FF", "#8B4513", "#00FA9A"]}},
        "shape": {"field": "m", "type": "nominal", "legend": null,
                  "scale": {"domain": ["VR", "CBH", "SBH"], "range": ["circle", "triangle-up", "triangle-down"]}},
        "size": {"field": "m", "type": "nominal", "legend": null,
                 "scale": {"domain": ["VR", "CBH", "SBH"], "range": [300, 600, 600]}}
      }
    },
    {
      "data": {"name": "pts"},
      "transform": [{"filter": "datum.k == 'ref'"}],
      "mark": {"type": "point", "shape": "circle", "filled": false, "color": "black",
               "size": 620, "strokeWidth": 2, "opacity": 1, "clip": true},
      "encoding": {
        "x": {"field": "x", "type": "quantitative"},
        "y": {"field": "y", "type": "quantitative"}
      }
    },
    {
      "data": {"name": "legitems"},
      "mark": {"type": "point", "filled": true, "opacity": 0},
      "encoding": {
        "fill": {"field": "leg", "type": "nominal",
                 "scale": {"domain": ["GPR", "GPR with shocks", "Stage 1: Regression", "Stage 2: Space−time", "VR/SRS/DSP", "CBH", "SBH", "HH", "Reference category", "Transparent points are", "mixed effects adjusted", "Hollow = outlier or shock"],
                           "range": ["black", "#FF0000", "#00FF00", "#0000FF", "black", "black", "black", "black", "black", "white", "white", "white"]},
                 "legend": {"title": null, "orient": "none", "legendX": -1, "legendY": 665,
                            "columns": 2, "gridAlign": "each", "symbolSize": 256,
                            "symbolStrokeWidth": 0, "symbolOpacity": 1,
                            "labelFontSize": 15.5, "labelColor": "black", "labelOffset": 21,
                            "labelLimit": 400, "rowPadding": 1.5, "columnPadding": 37,
                            "padding": 11.5, "strokeColor": "black",
                            "fillColor": "white"}},
        "shape": {"field": "leg", "type": "nominal",
                  "scale": {"domain": ["GPR", "GPR with shocks", "Stage 1: Regression", "Stage 2: Space−time", "VR/SRS/DSP", "CBH", "SBH", "HH", "Reference category", "Transparent points are", "mixed effects adjusted", "Hollow = outlier or shock"],
                            "range": ["M-2,-0.2L2,-0.2L2,0.2L-2,0.2Z", "M-2,-0.2L2,-0.2L2,0.2L-2,0.2Z", "M-2,-0.2L2,-0.2L2,0.2L-2,0.2Z", "M-2,-0.2L2,-0.2L2,0.2L-2,0.2Z", "M-0.66,0A0.66,0.66,0,1,1,0.66,0A0.66,0.66,0,1,1,-0.66,0Z", "M0,-0.55L0.72,0.5L-0.72,0.5Z", "M-0.65,-0.5L0.65,-0.5L0,0.55Z", "M0,-0.55L0.5,0L0,0.55L-0.5,0Z", "M-0.45,0A0.45,0.45,0,1,1,0.45,0A0.45,0.45,0,1,1,-0.45,0ZM-0.25,0A0.25,0.25,0,1,0,0.25,0A0.25,0.25,0,1,0,-0.25,0Z", "M0,0L0,0Z", "M0,0L0,0Z", "M0,0L0,0Z"]},
                  "legend": {"title": null, "orient": "none", "legendX": -1, "legendY": 665,
                             "columns": 2, "gridAlign": "each", "symbolSize": 256,
                             "symbolStrokeWidth": 0, "symbolOpacity": 1,
                             "labelFontSize": 15.5, "labelColor": "black", "labelOffset": 21,
                             "labelLimit": 400, "rowPadding": 1.5, "columnPadding": 37,
                             "padding": 11.5, "strokeColor": "black",
                             "fillColor": "white"}}
      }
    }
  ]
}
